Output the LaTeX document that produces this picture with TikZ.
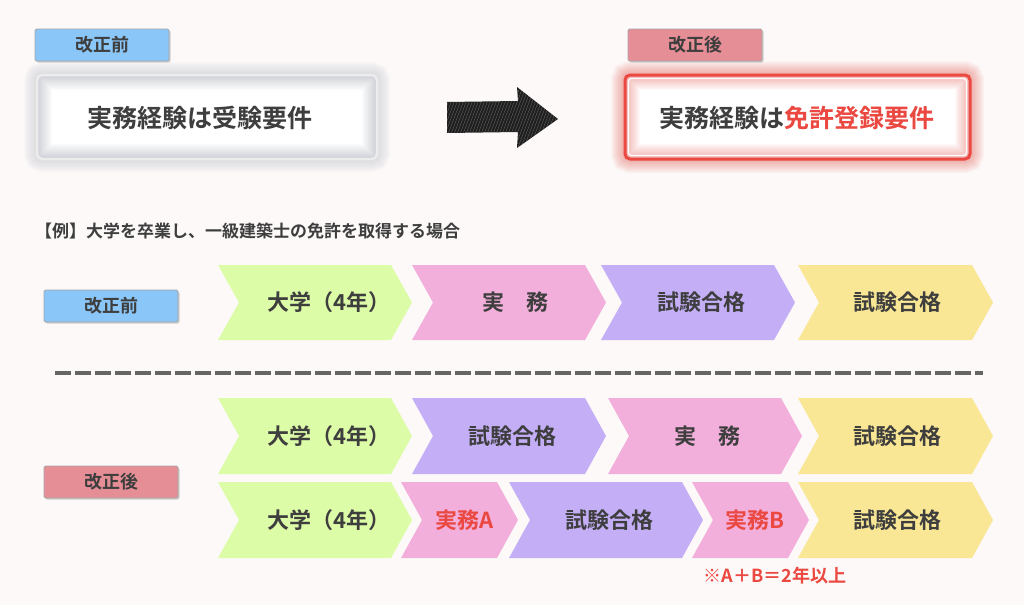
\documentclass[tikz,border=0pt]{standalone}
\usepackage{fontspec}
\newfontfamily\jp{Noto Sans CJK JP Bold}
\usetikzlibrary{shadows}

\definecolor{bg}{RGB}{252,249,248}
\definecolor{ink}{RGB}{62,62,62}
\definecolor{alert}{RGB}{234,72,64}
\definecolor{haze}{RGB}{150,152,170}
\definecolor{tagblue}{RGB}{138,198,248}
\definecolor{tagpink}{RGB}{230,142,150}
\definecolor{chgreen}{RGB}{221,252,168}
\definecolor{chpink}{RGB}{242,175,219}
\definecolor{chpurple}{RGB}{196,175,247}
\definecolor{chyellow}{RGB}{249,231,149}

\edef\tip{21}

% chevron: left x, tip x, top y, bottom y, colour
\newcommand{\chevron}[5]{%
  \fill[#5] (#1,#3) -- ({#2-\tip},#3) -- (#2,{(#3+#4)/2}) -- ({#2-\tip},#4)
    -- (#1,#4) -- ({#1+\tip},{(#3+#4)/2}) -- cycle;}

\tikzset{
  tag/.style={draw=gray!70, line width=0.8, rounded corners=1.5,
    minimum width=134, minimum height=32, text=ink,
    font=\jp\fontsize{18}{18}\selectfont,
    drop shadow={shadow xshift=1.5pt, shadow yshift=-1.5pt, fill=gray!60, opacity=0.6}},
  lbl/.style={text=ink, inner sep=0, font=\jp\fontsize{22}{22}\selectfont},
  big/.style={text=ink, inner sep=0, font=\jp\fontsize{25}{25}\selectfont},
  sepline/.style={line width=4.5, color=ink!80, dash pattern=on 16 off 4}
}

\begin{document}
\begin{tikzpicture}[x=1pt, y=-1pt]
  % page
  \fill[bg] (0,0) rectangle (1024,605);
  \useasboundingbox (0,0) rectangle (1024,605);

  % before box
  \foreach \w in {2,4,...,26}
    \draw[haze, line width=\w, opacity=0.025, rounded corners=5] (37,75) rectangle (377,159);
  \fill[white, rounded corners=5] (37,75) rectangle (377,159);
  \begin{scope}
    \clip[rounded corners=5] (37,75) rectangle (377,159);
    \foreach \w in {2,4,...,30}
      \draw[haze, line width=\w, opacity=0.03] (37,75) rectangle (377,159);
  \end{scope}
  \draw[white!85!gray, line width=2.5, rounded corners=5] (37,75) rectangle (377,159);
  \node[big] (oldreq) at (200,118) {実務経験は受験要件};
  \node[tag, fill=tagblue] (oldtag) at (102,45) {改正前};

  % after box
  \foreach \w in {2,4,...,28}
    \draw[alert, line width=\w, opacity=0.035, rounded corners=5] (625,75) rectangle (970,159);
  \fill[white, rounded corners=5] (625,75) rectangle (970,159);
  \begin{scope}
    \clip[rounded corners=5] (625,75) rectangle (970,159);
    \foreach \w in {2,4,...,30}
      \draw[alert, line width=\w, opacity=0.03] (625,75) rectangle (970,159);
  \end{scope}
  \draw[alert, line width=3, rounded corners=5] (625,75) rectangle (970,159);
  \draw[white, line width=1.2, rounded corners=3] (628.5,78.5) rectangle (966.5,155.5);
  \node[big] (newreq) at (797,118) {実務経験は\textcolor{alert}{免許登録要件}};
  \node[tag, fill=tagpink] (newtag) at (695,45) {改正後};

  % sketchy arrow
  \begin{scope}
    \clip (447,102) -- (518,101) -- (517,87) -- (558,119) -- (517,148) -- (518,132) -- (447,133) -- cycle;
    \fill[black!88] (440,80) rectangle (565,155);
    \foreach \i in {0,3,...,130}
      \draw[white, opacity=0.3, line width=0.4] (430+\i,150) -- (455+\i,84);
  \end{scope}

  % caption
  \node[anchor=west, inner sep=0, text=ink, font=\jp\fontsize{17}{17}\selectfont]
    (example) at (35,231) {【例】大学を卒業し、一級建築士の免許を取得する場合};

  % row before
  \node[tag, fill=tagblue] (tagA) at (111,306) {改正前};
  \chevron{218}{412}{265}{340}{chgreen}
  \chevron{412}{606}{265}{340}{chpink}
  \chevron{601}{795}{265}{340}{chpurple}
  \chevron{798}{993}{265}{340}{chyellow}
  \node[lbl] (a1) at (329,302) {大学（4年）};
  \node[lbl] (a2) at (515,302) {実　務};
  \node[lbl] (a3) at (701,302) {試験合格};
  \node[lbl] (a4) at (897,302) {試験合格};

  % separator
  \coordinate (s1) at (55,373);
  \coordinate (s2) at (983,373);
  \draw[sepline] (s1) -- (s2);

  % rows after
  \node[tag, fill=tagpink] (tagB) at (111,482) {改正後};
  \chevron{218}{412}{398}{474}{chgreen}
  \chevron{412}{606}{398}{474}{chpurple}
  \chevron{608}{802}{398}{474}{chpink}
  \chevron{798}{993}{398}{474}{chyellow}
  \node[lbl] (b1) at (329,436) {大学（4年）};
  \node[lbl] (b2) at (512,436) {試験合格};
  \node[lbl] (b3) at (707,436) {実　務};
  \node[lbl] (b4) at (897,436) {試験合格};

  \chevron{218}{412}{482}{558}{chgreen}
  \chevron{401}{518}{482}{558}{chpink}
  \chevron{509}{703}{482}{558}{chpurple}
  \chevron{692}{809}{482}{558}{chpink}
  \chevron{798}{993}{482}{558}{chyellow}
  \node[lbl] (c1) at (329,520) {大学（4年）};
  \node[lbl, text=alert] (c2) at (465,520) {実務A};
  \node[lbl] (c3) at (609,520) {試験合格};
  \node[lbl, text=alert] (c4) at (755,520) {実務B};
  \node[lbl] (c5) at (897,520) {試験合格};

  % note
  \node[inner sep=0, text=alert, font=\jp\fontsize{18}{18}\selectfont]
    (note) at (775,576) {※A＋B＝2年以上};
\end{tikzpicture}
\end{document}
